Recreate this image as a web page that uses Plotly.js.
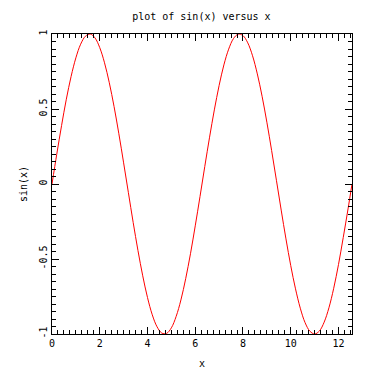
<!DOCTYPE html>
<html><head><meta charset="utf-8">
<script src="https://cdn.plot.ly/plotly-3.0.1.min.js"></script>
<style>html,body{margin:0;padding:0;background:#fff}#plot{width:380px;height:383px}</style>
</head><body><div id="plot"></div>
<script>
var xValues = [0,0.2,0.4,0.6,0.8,1.0,1.2,1.4,1.6,1.8,2.0,2.2,2.4,2.6,2.8,3.0,3.2,3.4,3.6,3.8,4.0,4.2,4.4,4.6,4.8,5.0,5.2,5.4,5.6,5.8,6.0,6.2,6.4,6.6,6.8,7.0,7.2,7.4,7.6,7.8,8.0,8.2,8.4,8.6,8.8,9.0,9.2,9.4,9.6,9.8,10.0,10.2,10.4,10.6,10.8,11.0,11.2,11.4,11.6,11.8,12.0,12.2,12.4,12.566];
var sinValues = [0,0.199,0.389,0.565,0.717,0.841,0.932,0.985,1.000,0.974,0.909,0.808,0.675,0.516,0.335,0.141,-0.058,-0.256,-0.443,-0.612,-0.757,-0.872,-0.952,-0.994,-0.996,-0.959,-0.883,-0.773,-0.631,-0.465,-0.279,-0.083,0.117,0.312,0.494,0.657,0.794,0.899,0.969,0.999,0.989,0.941,0.855,0.734,0.585,0.412,0.223,0.025,-0.174,-0.366,-0.544,-0.699,-0.828,-0.924,-0.981,-1.000,-0.980,-0.921,-0.825,-0.695,-0.537,-0.356,-0.166,0];
var yTickVals = [-1,-0.5,0,0.5,1];
var yTickText = ["-1","-0.5","0","0.5","1"];
var xTickVals = [0,2,4,6,8,10,12];
var xTickText = ["0","2","4","6","8","10","12"];

var font = {family:"DejaVu Sans Mono, monospace", size:10, color:"#000"};
var trace = {x:xValues, y:sinValues, type:"scatter", mode:"lines",
  line:{color:"#ff0000", width:1, shape:"spline"}, hoverinfo:"skip"};
var layout = {
  width:380, height:383,
  margin:{l:52, r:28, t:34, b:49},
  paper_bgcolor:"#fff", plot_bgcolor:"#fff",
  showlegend:false,
  font:font,
  title:{text:"plot of sin(x) versus x", font:font, x:0.53, xanchor:"center", y:0.958, yanchor:"middle"},
  xaxis:{range:[0,12.566], tickvals:xTickVals, ticktext:xTickText, ticks:"inside", ticklen:7, tickwidth:1, tickcolor:"#000",
    showline:true, linecolor:"#000", linewidth:1, mirror:"ticks", showgrid:false, zeroline:false,
    minor:{dtick:0.25, ticks:"inside", ticklen:4, tickwidth:1, tickcolor:"#000", showgrid:false},
    tickfont:font, title:{text:"x", font:font, standoff:11}},
  yaxis:{range:[-1,1], tickvals:yTickVals, ticktext:yTickText, ticks:"inside", ticklen:7, tickwidth:1, tickcolor:"#000",
    tickangle:-90, showline:true, linecolor:"#000", linewidth:1, mirror:"ticks", showgrid:false, zeroline:false,
    minor:{dtick:0.05, ticks:"inside", ticklen:4, tickwidth:1, tickcolor:"#000", showgrid:false},
    tickfont:font, title:{text:"sin(x)", font:font, standoff:8}}
};
Plotly.newPlot("plot", [trace], layout, {staticPlot:true, displayModeBar:false});
</script></body></html>
